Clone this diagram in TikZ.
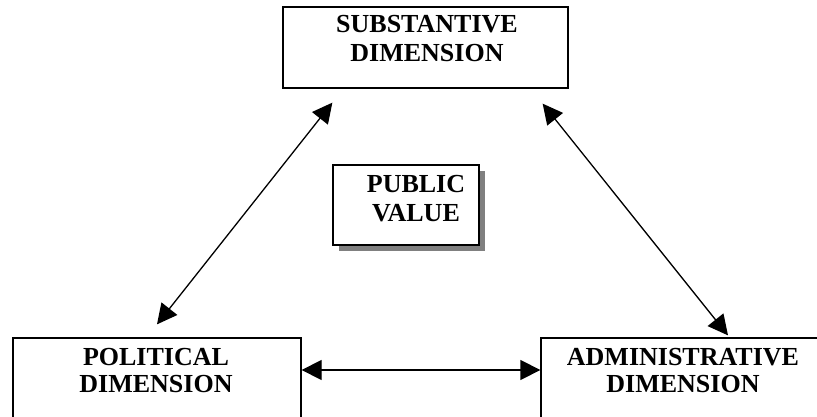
\documentclass[tikz,border=0pt]{standalone}
\usepackage{fontspec}
\setmainfont{Liberation Serif}
\usetikzlibrary{arrows.meta,shadows}
\begin{document}
\begin{tikzpicture}[x=1pt,y=-1pt,
  box/.style={draw=black, line width=1.3pt, fill=white, inner sep=0pt},
  lbl/.style={anchor=base, inner sep=0pt, font=\fontsize{26}{28}\selectfont\bfseries},
  dbl/.style={line width=1.3pt, {Triangle[length=20pt,width=20pt]}-{Triangle[length=20pt,width=20pt]}}]
\useasboundingbox (0,0) rectangle (817,417);
% boxes
\node[box, minimum width=285pt, minimum height=81pt] (sub) at (425.5,47.5) {};
\node[box, minimum width=146pt, minimum height=80pt,
  drop shadow={shadow xshift=6pt, shadow yshift=-6pt, fill=black!50, opacity=1}] (pv) at (406,205) {};
\node[box, minimum width=288pt, minimum height=102pt] (pol) at (157,389) {};
\node[box, minimum width=284pt, minimum height=102pt] (adm) at (683,389) {};
% labels
\node[lbl] (sub1) at (427,33) {SUBSTANTIVE};
\node[lbl] (sub2) at (427,62) {DIMENSION};
\node[lbl] (pv1) at (416,193) {PUBLIC};
\node[lbl] (pv2) at (416,222) {VALUE};
\node[lbl] (pol1) at (156,365) {POLITICAL};
\node[lbl] (pol2) at (156,392) {DIMENSION};
\node[lbl] (adm1) at (683,365) {ADMINISTRATIVE};
\node[lbl] (adm2) at (683,392) {DIMENSION};
% connectors
\draw[dbl] ([yshift=13pt]pol.north) -- ([xshift=50pt,yshift=-14pt]sub.south west);
\draw[dbl] ([xshift=-26pt,yshift=-15pt]sub.south east) -- ([xshift=45pt,yshift=2pt]adm.north);
\draw[dbl] ([yshift=19pt]pol.east) -- ([yshift=19pt]adm.west);
\end{tikzpicture}
\end{document}
